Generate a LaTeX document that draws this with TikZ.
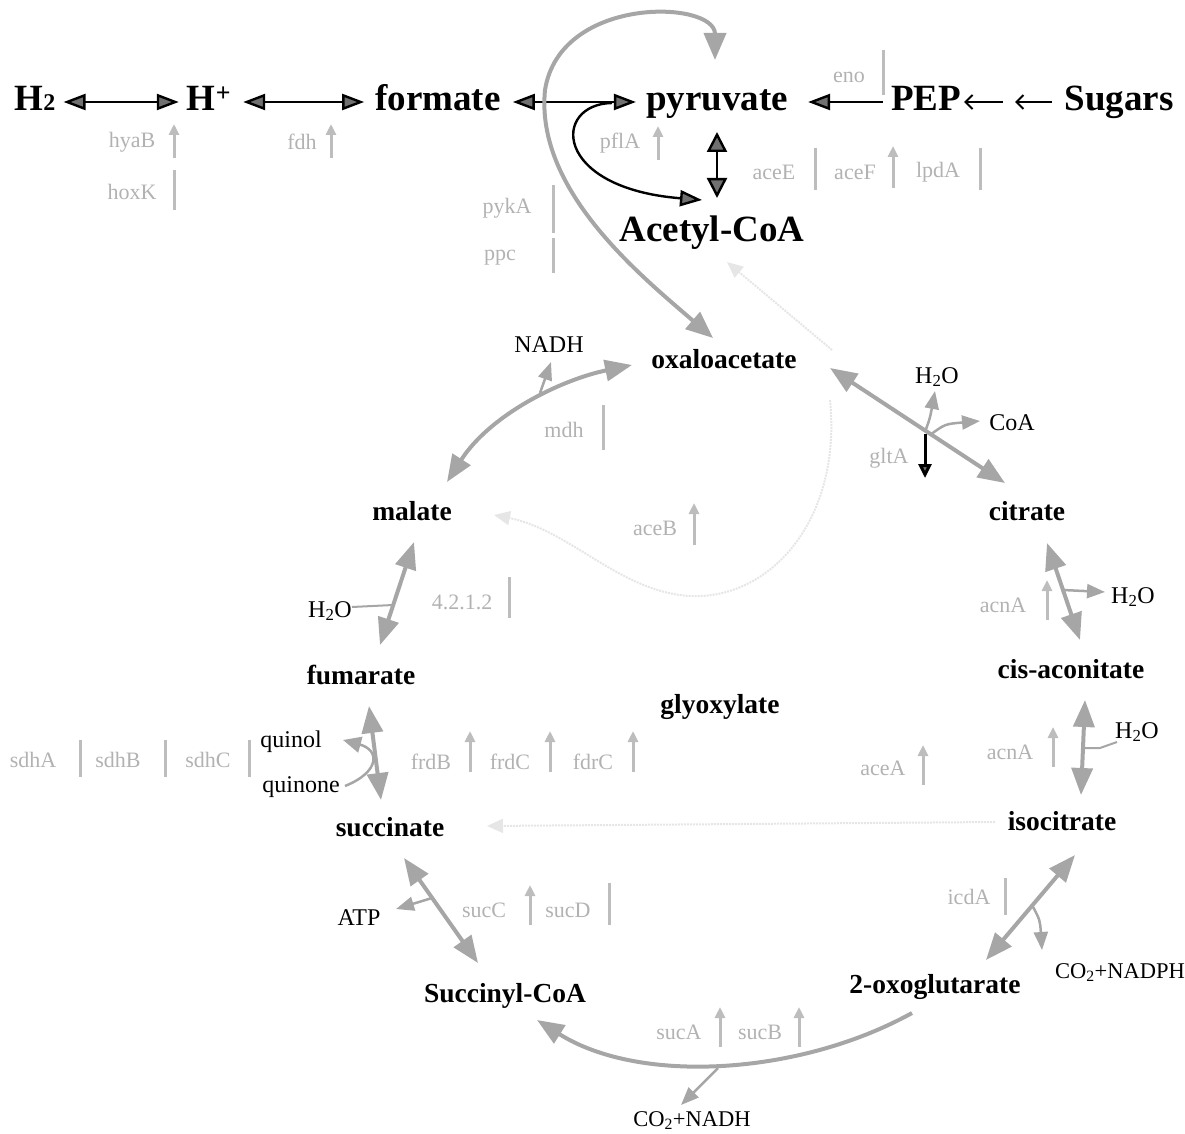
\documentclass[tikz,border=0pt]{standalone}
\usepackage{fontspec}
\setmainfont{Liberation Serif}
\usetikzlibrary{arrows.meta}
\definecolor{cycgray}{HTML}{A6A6A6}
\definecolor{genegray}{HTML}{B2B2B2}
\definecolor{markgray}{HTML}{BDBDBD}
\definecolor{faintgray}{HTML}{E6E6E6}
\definecolor{headfill}{HTML}{707070}
\begin{document}
\begin{tikzpicture}[x=1pt,y=-1pt,
  top/.style={font=\fontsize{37}{40}\selectfont\bfseries, inner sep=0pt, text height=26pt, text depth=8pt, anchor=base},
  met/.style={font=\fontsize{27.5}{30}\selectfont\bfseries, inner sep=0pt, anchor=base},
  sml/.style={font=\fontsize{24}{28}\selectfont, inner sep=0pt, anchor=base},
  gene/.style={font=\fontsize{22}{26}\selectfont, text=genegray, inner sep=0pt},
  blk/.style={draw=black, line width=2.4pt, {Triangle[length=22pt,width=16pt,fill=headfill]}-{Triangle[length=22pt,width=16pt,fill=headfill]}},
  blkr/.style={draw=black, line width=2.4pt, -{Triangle[length=22pt,width=16pt,fill=headfill]}},
  thin/.style={draw=black, line width=2pt, -{Straight Barb[length=7pt,width=14pt]}},
  cyc/.style={draw=cycgray, line width=4pt, {Triangle[length=27pt,width=21pt,fill=cycgray]}-{Triangle[length=27pt,width=21pt,fill=cycgray]}},
  cycr/.style={draw=cycgray, line width=4pt, -{Triangle[length=27pt,width=21pt,fill=cycgray]}},
  br/.style={draw=cycgray, line width=2.5pt, -{Triangle[length=18pt,width=14pt,fill=cycgray]}},
  garr/.style={draw=markgray, line width=3pt, -{Triangle[length=11pt,width=10pt,fill=markgray]}},
  gbar/.style={draw=markgray, line width=3pt},
  faint/.style={draw=faintgray, line width=2pt, densely dotted},
]
\useasboundingbox (0,0) rectangle (1185,1134);

% ---------- top row ----------
\node[top] (H2) at (35,111) {H\raisebox{0pt}{\fontsize{24}{24}\selectfont 2}};
\node[top] (Hp) at (209,111) {H\textsuperscript{+}};
\node[top] (formate) at (438,111) {formate};
\node[top] (pyruvate) at (717,111) {pyruvate};
\node[top] (PEP) at (926,111) {PEP};
\node[top] (Sugars) at (1119,111) {Sugars};
\node[top] (AcCoA) at (712,241) {Acetyl-CoA};

\draw[blk, shorten <=8pt, shorten >=8pt] (H2) -- (Hp);
\draw[blk, shorten <=12pt, shorten >=11pt] (Hp) -- (formate);
\draw[blk, shorten <=12pt, shorten >=10pt] (formate) -- (pyruvate);
\draw[blkr, shorten <=8pt, shorten >=20pt] (PEP) -- (pyruvate);
\coordinate (sg1) at (1052,102);
\coordinate (sg2) at (1003,102);
\draw[thin] (sg1) -- ([xshift=-37pt]sg1);
\draw[thin, shorten >=3pt] (sg2) -- (PEP);
\coordinate (pyrS) at (717,132);
\coordinate (acN) at (717,198);
\draw[draw=black, line width=2.4pt, {Triangle[length=20pt,width=20pt,fill=headfill]}-{Triangle[length=20pt,width=20pt,fill=headfill]}] (pyrS) -- (acN);
\coordinate (fpSplit) at (612,103);
\coordinate (acW) at (702,200);
\draw[blkr] (fpSplit) .. controls (552,104) and (552,188) .. (acW);

% ---------- genes top ----------
\node[gene] (g-hyaB) at (132,142) {hyaB};
\node[gene] (g-hoxK) at (132,192) {hoxK};
\node[gene] (g-fdh) at (302,142) {fdh};
\node[gene] (g-pflA) at (620,143) {pflA};
\node[gene] (g-eno) at (849,77) {eno};
\node[gene] (g-aceE) at (774,172) {aceE};
\node[gene] (g-aceF) at (855,172) {aceF};
\node[gene] (g-lpdA) at (938,172) {lpdA};
\node[gene] (g-pykA) at (507,208) {pykA};
\node[gene] (g-ppc) at (500,258) {ppc};
\draw[garr] (174,158) -- (174,124);
\draw[gbar] (174,170) -- (174,210);
\draw[garr] (331,158) -- (331,124);
\draw[garr] (658,160) -- (658,126);
\draw[gbar] (883,50) -- (883,95);
\draw[gbar] (815,148) -- (815,190);
\draw[garr] (893,188) -- (893,146);
\draw[gbar] (980,148) -- (980,190);
\draw[gbar] (553,185) -- (553,233);
\draw[gbar] (553,238) -- (553,273);

% ---------- cycle metabolites ----------
\node[met] (oaa) at (724,368) {oxaloacetate};
\node[sml] (NADH) at (549,352) {NADH};
\node[met] (malate) at (412,520) {malate};
\node[met] (citrate) at (1027,520) {citrate};
\node[sml] (H2Oa) at (937,383) {H\textsubscript{2}O};
\node[sml] (CoA) at (1012,430) {CoA};
\node[met] (fumarate) at (361,684) {fumarate};
\node[sml] (H2Ob) at (330,617) {H\textsubscript{2}O};
\node[met] (cisacon) at (1071,678) {cis-aconitate};
\node[sml] (H2Oc) at (1133,603) {H\textsubscript{2}O};
\node[sml] (H2Od) at (1137,738) {H\textsubscript{2}O};
\node[met] (glyox) at (720,713) {glyoxylate};
\node[met] (isocit) at (1062,830) {isocitrate};
\node[met] (succinate) at (390,836) {succinate};
\node[sml] (quinol) at (291,747) {quinol};
\node[sml] (quinone) at (301,792) {quinone};
\node[sml] (ATP) at (359,925) {ATP};
\node[met] (succoa) at (505,1002) {Succinyl-CoA};
\node[met] (oxoglut) at (935,993) {2-oxoglutarate};
\node[sml, font=\fontsize{22.5}{26}\selectfont] (CO2NADPH) at (1120,978) {CO\textsubscript{2}+NADPH};
\node[sml, font=\fontsize{22.5}{26}\selectfont] (CO2NADH) at (692,1126) {CO\textsubscript{2}+NADH};

% ---------- faint glyoxylate shunt ----------
\coordinate (acS) at (727,262);
\coordinate (fA) at (832,350);
\draw[faint, -{Triangle[length=16pt,width=14pt,fill=faintgray]}] (fA) -- (acS);
\coordinate (malE) at (494,515);
\coordinate (fB) at (830,400);
\draw[faint, -{Triangle[length=16pt,width=14pt,fill=faintgray]}] (fB) .. controls (842,520) and (770,600) .. (690,596) .. controls (620,592) and (570,530) .. (malE);
\coordinate (succE) at (487,826);
\coordinate (isoW) at (995,822);
\draw[faint, -{Triangle[length=16pt,width=14pt,fill=faintgray]}] (isoW) -- (succE);

% ---------- big gray curve pyruvate / oxaloacetate ----------
\coordinate (pyrN) at (715,60);
\coordinate (oaaNW) at (713,338);
\draw[draw=cycgray, line width=4pt, {Triangle[length=27pt,width=22pt,fill=cycgray]}-{Triangle[length=27pt,width=22pt,fill=cycgray]}]
  (pyrN) .. controls (715,0) and (560,-5) .. (545,90) .. controls (535,190) and (640,275) .. (oaaNW);

% ---------- cycle arrows ----------
\coordinate (oaaW) at (632,365);
\coordinate (malNE) at (447,482);
\draw[cyc] (malNE) .. controls (490,415) and (560,380) .. (oaaW);
\coordinate (nadhB) at (540,393);
\coordinate (nadhT) at (551,362);
\draw[br] (nadhB) -- (nadhT);

\coordinate (oaaE) at (830,368);
\coordinate (citNW) at (1005,483);
\draw[cyc] (oaaE) -- (citNW);
\draw[br] (925,432) .. controls (930,418) .. (935,391);
\draw[br] (930,435) .. controls (945,424) .. (980,421);

\coordinate (citS) at (1047,543);
\coordinate (cisN) at (1080,640);
\draw[cyc] (citS) -- (cisN);
\draw[br] (1063,590) -- (1105,592);

\coordinate (cisS) at (1085,700);
\coordinate (isoN) at (1081,795);
\draw[cyc] (cisS) -- (isoN);
\draw[draw=cycgray, line width=2pt] (1084,748) -- (1100,748) -- (1117,742);

\coordinate (isoS) at (1075,855);
\coordinate (oxoN) at (986,960);
\draw[cyc] (isoS) -- (oxoN);
\draw[br] (1032,905) .. controls (1040,920) .. (1042,950);

\coordinate (oxoW) at (912,1013);
\coordinate (scE) at (537,1020);
\draw[cycr] (oxoW) .. controls (800,1075) and (640,1085) .. (scE);
\draw[br] (718,1068) -- (681,1105);

\coordinate (sucS) at (404,858);
\coordinate (scN) at (478,963);
\draw[cyc] (sucS) -- (scN);
\draw[br] (432,898) -- (396,909);

\coordinate (fumS) at (369,706);
\coordinate (sucN) at (381,800);
\draw[cyc] (fumS) -- (sucN);
\draw[draw=cycgray, line width=2.5pt, -{Triangle[length=18pt,width=16pt,fill=cycgray]}] (345,786) .. controls (380,772) and (380,750) .. (343,740);

\coordinate (malS) at (414,542);
\coordinate (fumN) at (380,645);
\draw[cyc] (malS) -- (fumN);
\draw[draw=cycgray, line width=2pt] (352,607) -- (393,605);

% ---------- cycle genes ----------
\node[gene] (g-mdh) at (564,430) {mdh};
\node[gene] (g-gltA) at (889,458) {gltA};
\node[gene] (g-aceB) at (655,528) {aceB};
\node[gene] (g-4212) at (462,602) {4.2.1.2};
\node[gene] (g-acnA1) at (1003,605) {acnA};
\node[gene] (g-acnA2) at (1010,752) {acnA};
\node[gene] (g-aceA) at (883,768) {aceA};
\node[gene] (g-sdhA) at (33,760) {sdhA};
\node[gene] (g-sdhB) at (118,760) {sdhB};
\node[gene] (g-sdhC) at (208,760) {sdhC};
\node[gene] (g-frdB) at (431,762) {frdB};
\node[gene] (g-frdC) at (510,762) {frdC};
\node[gene] (g-fdrC) at (593,762) {fdrC};
\node[gene] (g-icdA) at (969,897) {icdA};
\node[gene] (g-sucC) at (484,910) {sucC};
\node[gene] (g-sucD) at (568,910) {sucD};
\node[gene] (g-sucA) at (679,1032) {sucA};
\node[gene] (g-sucB) at (760,1032) {sucB};

\draw[gbar] (603,405) -- (603,450);
\draw[draw=black, line width=3pt, -{Triangle[length=14pt,width=13pt,fill=headfill]}] (925,434) -- (925,478);
\draw[garr] (694,545) -- (694,503);
\draw[gbar] (509,577) -- (509,618);
\draw[garr] (1047,620) -- (1047,580);
\draw[garr] (1053,767) -- (1053,727);
\draw[garr] (923,785) -- (923,745);
\draw[gbar] (80,740) -- (80,777);
\draw[gbar] (165,740) -- (165,777);
\draw[gbar] (249,740) -- (249,777);
\draw[garr] (470,772) -- (470,731);
\draw[garr] (550,772) -- (550,731);
\draw[garr] (633,772) -- (633,731);
\draw[gbar] (1005,878) -- (1005,915);
\draw[garr] (530,925) -- (530,885);
\draw[gbar] (609,883) -- (609,925);
\draw[garr] (720,1047) -- (720,1007);
\draw[garr] (799,1047) -- (799,1007);
\end{tikzpicture}
\end{document}
